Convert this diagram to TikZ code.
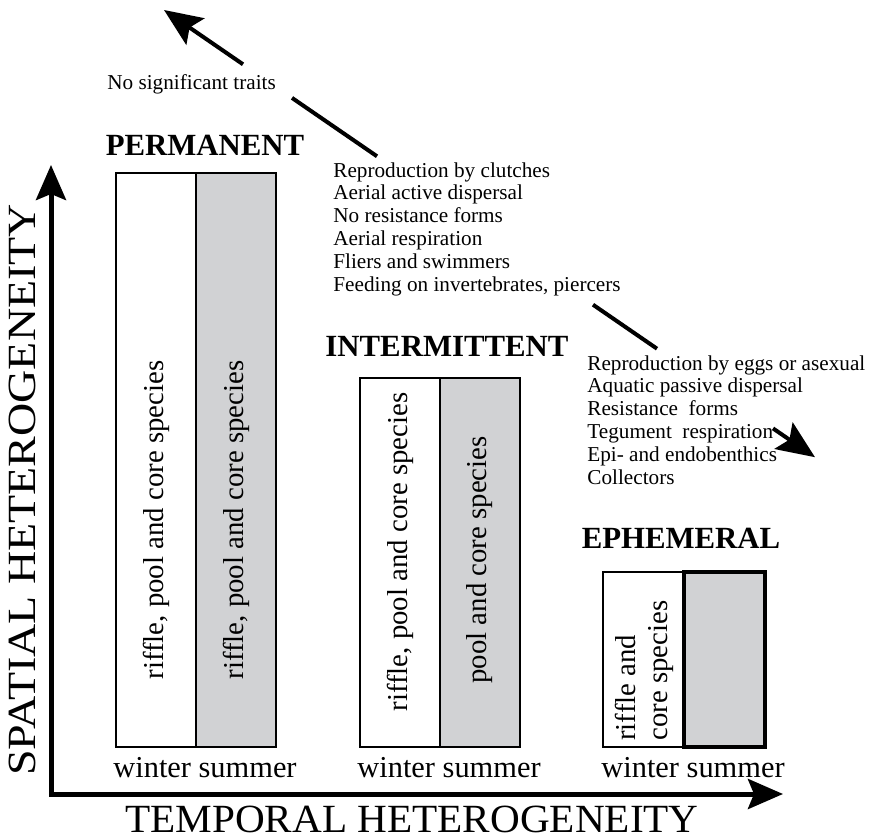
\documentclass[tikz,border=0pt]{standalone}
\usepackage{fontspec}
\setmainfont{Liberation Serif}
\newfontfamily\temporalfont[FakeStretch=1.03]{Liberation Serif}
\newfontfamily\spatialfont[FakeStretch=1.15]{Liberation Serif}
\usetikzlibrary{arrows.meta,positioning}

\definecolor{summergray}{RGB}{209,210,212}

\tikzstyle{axis} = [line width=2.5pt, line join=miter, {Stealth[length=17.5pt,width=15pt,inset=3pt]}-{Stealth[length=17.5pt,width=15pt,inset=3pt]}]
\tikzstyle{trend} = [line width=2pt]
\tikzstyle{trendarrow} = [trend, -{Stealth[length=19pt,width=16pt,inset=3.5pt]}]
\tikzstyle{colbox} = [draw=black, line width=1pt]
\tikzstyle{season} = [font=\fontsize{15.2}{18}\selectfont, inner sep=0pt, anchor=base west]
\tikzstyle{head} = [font=\fontsize{15.4}{18}\selectfont\bfseries, inner sep=0pt, anchor=base]
\tikzstyle{species} = [font=\fontsize{14.4}{16}\selectfont, rotate=90, inner sep=0pt]
\tikzstyle{traits} = [font=\fontsize{10.6}{11.4}\selectfont, align=left, inner sep=0pt]
\tikzstyle{axislabel} = [inner sep=0pt, anchor=base]

\begin{document}
\begin{tikzpicture}
\begin{scope}[x=0.5pt,y=-0.5pt]
\useasboundingbox (0,0) rectangle (873,839);
%% axes
\coordinate (ytip) at (51,165);
\coordinate (origin) at (51,794);
\coordinate (xtip) at (783,794);
\draw[axis] (ytip) -- (origin) -- (xtip);
\node[axislabel, font=\fontsize{20}{24}\temporalfont] (temporal) at (412,832) {TEMPORAL HETEROGENEITY};
\node[axislabel, rotate=90, font=\fontsize{20}{24}\spatialfont] (spatial) at (35,490) {SPATIAL HETEROGENEITY};
%% permanent
\draw[colbox] (116,173) rectangle (196,747);
\filldraw[colbox, fill=summergray] (196,173) rectangle (276,747);
\node[head] (permanent) at (205,156) {PERMANENT};
\node[species] (permwinter) at (156,520) {riffle, pool and core species};
\node[species] (permsummer) at (236,520) {riffle, pool and core species};
\node[season] (permseason) at (113,777) {winter summer};
%% intermittent
\draw[colbox] (360,378) rectangle (440,747);
\filldraw[colbox, fill=summergray] (440,378) rectangle (520,747);
\node[head] (intermittent) at (447,357) {INTERMITTENT};
\node[species] (intwinter) at (400,552) {riffle, pool and core species};
\node[species] (intsummer) at (480,560) {pool and core species};
\node[season] (intseason) at (357,777) {winter summer};
%% ephemeral
\draw[colbox] (603,572) rectangle (684,747);
\filldraw[colbox, line width=1.75pt, fill=summergray] (684,572) rectangle (765,747);
\node[head] (ephemeral) at (681,548) {EPHEMERAL};
\node[species, align=left, anchor=west] (ephwinter) at (644,741) {riffle and\\core species};
\node[season] (ephseason) at (601,777) {winter summer};
%% traits along the trend
\node[traits, anchor=base west] (notraits) at (107,90) {No significant traits};
\node[traits, anchor=north west] (permtraits) at (333,162) {Reproduction by clutches\\
  Aerial active dispersal\\
  No resistance forms\\
  Aerial respiration\\
  Fliers and swimmers\\
  Feeding on invertebrates, piercers};
\node[traits, anchor=north west] (ephtraits) at (587,355) {Reproduction by eggs or asexual\\
  Aquatic passive dispersal\\
  Resistance~ forms\\
  Tegument~ respiration\\
  Epi- and endobenthics\\
  Collectors};
\coordinate (t0) at (164,10);
\coordinate (t1) at (243,64.3);
\coordinate (t2) at (292,97.9);
\coordinate (t3) at (377,156.3);
\coordinate (t4) at (593,304.7);
\coordinate (t5) at (657,348.7);
\coordinate (t6) at (773,428.4);
\coordinate (t7) at (815,457.2);
\draw[trendarrow] (t1) -- (t0);
\draw[trend] (t2) -- (t3);
\draw[trend] (t4) -- (t5);
\draw[trendarrow] (t6) -- (t7);
\end{scope}
\end{tikzpicture}
\end{document}
